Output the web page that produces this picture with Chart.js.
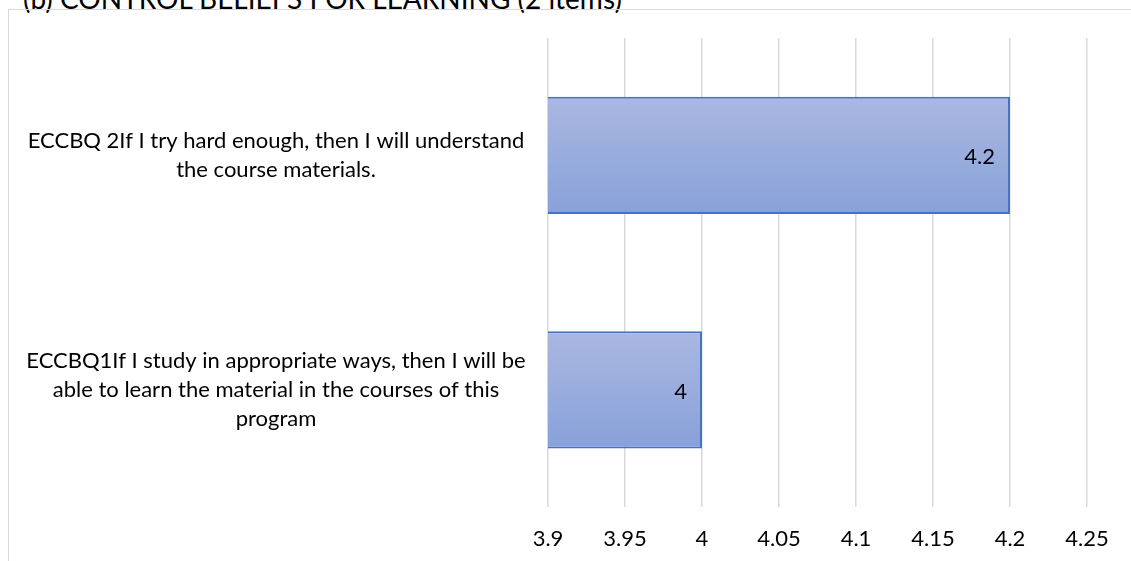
<!DOCTYPE html>
<html>
<head>
<meta charset="utf-8">
<script src="https://cdn.jsdelivr.net/npm/chart.js@4/dist/chart.umd.min.js"></script>
<style>
  html, body { margin: 0; padding: 0; background: #fff; overflow: hidden; }
  #wrap { position: relative; width: 1131px; height: 561px; }
  #title {
    position: absolute; left: 23px; top: -14px;
    font: 24px Lato, sans-serif; line-height: 24px; color: #000;
    white-space: nowrap;
  }
  #frame {
    position: absolute; left: 8px; top: 9px; width: 1140px; height: 600px;
    border: 1.5px solid #d9d9d9; box-sizing: border-box;
  }
  #chart { position: absolute; left: 0; top: 0; }
</style>
</head>
<body>
<div id="wrap">
  <div id="title">(b) CONTROL BELIEFS FOR LEARNING (2 items)</div>
  <div id="frame"></div>
  <canvas id="chart" width="1131" height="561"></canvas>
</div>
<script>
// ── Data ────────────────────────────────────────────────────────────────
const itemLabels = [
  ['ECCBQ 2If I try hard enough, then I will understand', 'the course materials.'],
  ['ECCBQ1If I study in appropriate ways, then I will be', 'able to learn the material in the courses of this', 'program'],
];
const itemMeans = [4.2, 4.0];
const axisMin = 3.9, axisMax = 4.25, axisStep = 0.05;

const FONT = 'Lato, sans-serif';
const FONT_SIZE = 22;

// fit the title to its line width
(function fitTitle() {
  const el = document.getElementById('title');
  const m = document.createElement('canvas').getContext('2d');
  m.font = `24px ${FONT}`;
  const w = m.measureText(el.textContent).width;
  el.style.fontSize = (24 * 600 / w).toFixed(2) + 'px';
})();

// centre the wrapped y labels in the space left of the plot
const measure = document.createElement('canvas').getContext('2d');
measure.font = `${FONT_SIZE}px ${FONT}`;
const widest = Math.max(...itemLabels.flat().map(s => measure.measureText(s).width));
const yPad = Math.max(4, 548 - 284 - widest / 2);

function barFill(c) {
  const chart = c.chart;
  const area = chart.chartArea;
  const y = chart.scales.y;
  if (!area || !y) return '#98aadb';
  const mid = y.getPixelForValue(c.dataIndex);
  const half = (area.height / itemLabels.length) * 0.25;
  const g = chart.ctx.createLinearGradient(0, mid - half, 0, mid + half);
  g.addColorStop(0, '#aab8e1');
  g.addColorStop(1, '#88a1d9');
  return g;
}

// values written inside the bar ends
const valueLabels = {
  id: 'valueLabels',
  afterDatasetsDraw(chart) {
    const ctx = chart.ctx;
    ctx.save();
    ctx.font = `${FONT_SIZE}px ${FONT}`;
    ctx.fillStyle = '#000';
    ctx.textAlign = 'right';
    ctx.textBaseline = 'middle';
    chart.getDatasetMeta(0).data.forEach((bar, i) => {
      ctx.fillText(String(itemMeans[i]), bar.x - 15, bar.y + 2);
    });
    ctx.restore();
  },
};

new Chart(document.getElementById('chart'), {
  type: 'bar',
  data: {
    labels: itemLabels,
    datasets: [{
      data: itemMeans,
      backgroundColor: barFill,
      borderColor: '#4472c4',
      borderWidth: 2,
      borderSkipped: false,
      barPercentage: 1,
      categoryPercentage: 0.5,
    }],
  },
  options: {
    indexAxis: 'y',
    responsive: false,
    animation: false,
    layout: { padding: { left: 0, right: 44, top: 38, bottom: 0 } },
    scales: {
      x: {
        min: axisMin,
        max: axisMax,
        ticks: {
          stepSize: axisStep,
          padding: 19,
          color: '#000',
          font: { family: FONT, size: FONT_SIZE },
          callback: v => String(Number(v.toFixed(2))),
        },
        grid: { color: '#d9d9d9', lineWidth: 1.5, drawTicks: false },
        border: { display: false },
        afterFit: s => { s.height = 54; s.paddingLeft = 0; s.paddingRight = 0; },
      },
      y: {
        ticks: {
          crossAlign: 'center',
          padding: yPad,
          color: '#000',
          font: { family: FONT, size: FONT_SIZE, lineHeight: 1.33 },
        },
        grid: { display: false },
        border: { display: false },
        afterFit: s => { s.width = 548; s.paddingTop = 0; s.paddingBottom = 0; },
      },
    },
    plugins: { legend: { display: false }, tooltip: { enabled: false } },
  },
  plugins: [valueLabels],
});
</script>
</body>
</html>
